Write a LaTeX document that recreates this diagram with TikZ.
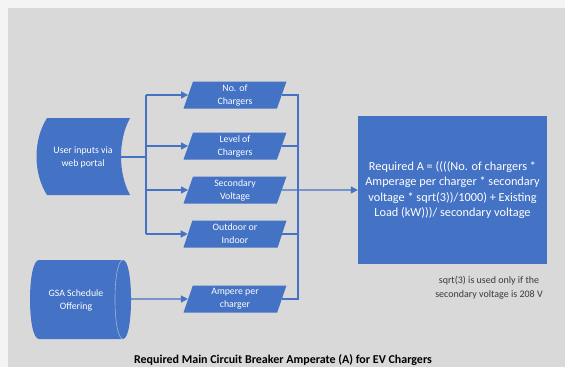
\documentclass[tikz,border=0pt]{standalone}
\usepackage{fontspec}
\setmainfont{Carlito}
\usetikzlibrary{shapes.geometric,arrows.meta}
\definecolor{flowblue}{HTML}{4472C4}
\definecolor{panelgray}{HTML}{D9D9D9}
\definecolor{pagewhite}{HTML}{F4F4F4}
\definecolor{rimblue}{HTML}{9DB3DE}
\definecolor{notegray}{HTML}{3A3A3A}
\begin{document}
\begin{tikzpicture}[x=1pt,y=-1pt,
  conn/.style={draw=flowblue, line width=1.3pt},
  arr/.style={conn, -{Triangle[length=7pt,width=7pt]}},
  datain/.style={shape=trapezium, trapezium left angle=66, trapezium right angle=114,
    trapezium stretches body, fill=flowblue, text=white, minimum width=103pt,
    minimum height=27pt, inner sep=0pt, align=center, font=\fontsize{9.8}{13}\selectfont},
  srclabel/.style={text=white, align=center, inner sep=0pt, font=\fontsize{9.8}{13}\selectfont},
  formula/.style={fill=flowblue, text=white, align=center, minimum width=189pt,
    minimum height=148pt, inner sep=0pt, font=\fontsize{12.3}{15.3}\selectfont}]

% page and panel
\useasboundingbox (0,0) rectangle (565,367);
\fill[pagewhite] (0,0) rectangle (565,367);
\fill[panelgray] (8,8) rectangle (565,367);

% stored-data source: user inputs
\fill[flowblue] (47,118) -- (130,118) .. controls (118,140) and (118,173) .. (130,195)
  -- (47,195) .. controls (33,173) and (33,140) .. cycle;
\node[srclabel, minimum width=76pt] (user) at (83,157) {User inputs via\\web portal};

% direct-access storage source: GSA schedule
\fill[flowblue] (39,260) -- (123,260) .. controls (133.7,260) and (133.7,339) .. (123,339)
  -- (39,339) .. controls (27,339) and (27,260) .. cycle;
\draw[rimblue, line width=0.6pt] (123,260) .. controls (112.3,260) and (112.3,339) .. (123,339);
\node[srclabel] (gsa) at (76,300) {GSA Schedule\\Offering};
\coordinate (gsaR) at (131,299);

% input parameters
\node[datain] (nch)  at (235,95)  {No. of\\Chargers};
\node[datain] (lvl)  at (235,146) {Level of\\Chargers};
\node[datain] (volt) at (235,190) {Secondary\\Voltage};
\node[datain] (loc)  at (235,234) {Outdoor or\\Indoor};
\node[datain] (amp)  at (235,299) {Ampere per\\charger};

% result box
\node[formula] (calc) at (452.5,190) {Required A = ((((No. of chargers *\\
  Amperage per charger * secondary\\
  voltage * sqrt(3))/1000) + Existing\\
  Load (kW)))/ secondary voltage};

% bus lines
\coordinate (busL) at (146,0);
\coordinate (busR) at (298,0);

% fan-out from user inputs
\draw[conn] (user.east) -- (user.east -| busL);
\draw[conn] (nch.west -| busL) -- (loc.west -| busL);
\foreach \p in {nch,lvl,volt,loc}
  \draw[arr] (\p.west -| busL) -- (\p.west);

% GSA feed
\draw[arr] (gsaR) -- (amp.west);

% collect into the result
\draw[conn] (nch.east) -- (nch.east -| busR) -- (amp.east -| busR) -- (amp.east);
\draw[conn] (lvl.east) -- (lvl.east -| busR);
\draw[conn] (loc.east) -- (loc.east -| busR);
\draw[arr] (volt.east) -- (calc.west);

% notes
\node[text=notegray, align=center, font=\fontsize{10}{14}\selectfont] (note) at (489,288)
  {sqrt(3) is used only if the\\secondary voltage is 208 V};
\node[text=black, font=\fontsize{12}{14}\selectfont\bfseries] (title) at (283,360)
  {Required Main Circuit Breaker Amperate (A) for EV Chargers};
\end{tikzpicture}
\end{document}
